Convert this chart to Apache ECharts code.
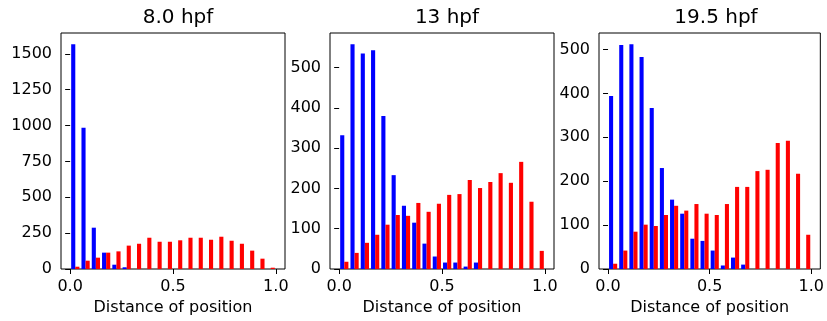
<!DOCTYPE html>
<html>
<head>
<meta charset="utf-8">
<script src="https://cdn.jsdelivr.net/npm/echarts@6/dist/echarts.min.js"></script>
<style>html,body{margin:0;padding:0;background:#fff}#c{width:827px;height:321px}</style>
</head>
<body>
<div id="c"></div>
<script>
const binEdges = [0.00,0.05,0.10,0.15,0.20,0.25,0.30,0.35,0.40,0.45,0.50,0.55,0.60,0.65,0.70,0.75,0.80,0.85,0.90,0.95];
const titles = ['8.0 hpf', '13 hpf', '19.5 hpf'];
const xLabel = 'Distance of position';
const xTicks = [0.0, 0.5, 1.0];

const blue8  = [1567,985,288,114,30,12,0,0,0,0,0,0,0,0,0,0,0,0,0,0];
const red8   = [16,58,79,114,123,163,176,218,190,190,200,218,218,204,225,197,176,128,72,9];
const blue13 = [332,558,535,543,380,233,157,115,63,31,16,16,6,16,0,0,0,0,0,0];
const red13  = [18,40,65,85,110,134,132,164,142,162,184,186,221,201,216,238,214,266,167,45];
const blue19 = [394,510,512,483,367,230,158,126,69,64,42,8,26,10,0,0,0,0,0,0];
const red19  = [12,42,85,101,98,123,144,133,148,126,123,148,187,187,223,226,287,292,217,78];

const yTicks8  = [0,250,500,750,1000,1250,1500];
const yTicks13 = [0,100,200,300,400,500];
const yTicks19 = [0,100,200,300,400,500];

const panels = [
  {title: titles[0], blue: blue8,  red: red8,  yTicks: yTicks8,  left: 61},
  {title: titles[1], blue: blue13, red: red13, yTicks: yTicks13, left: 330},
  {title: titles[2], blue: blue19, red: red19, yTicks: yTicks19, left: 599}
];

const BIN_W = 0.05;
const BAR_W = BIN_W * 0.4;
const X_MIN = -0.0445, X_MAX = 1.0445;
const GRID_W = 224, GRID_TOP = 33, GRID_H = 236;
const FONT = 'DejaVu Sans';

function makeRender(offset) {
  return function (params, api) {
    const x0 = api.value(0) + offset;
    const v = api.value(1);
    const p0 = api.coord([x0, v]);
    const p1 = api.coord([x0 + BAR_W, 0]);
    return {
      type: 'rect',
      shape: {x: p0[0], y: p0[1], width: p1[0] - p0[0], height: p1[1] - p0[1]},
      style: {fill: api.visual('color')}
    };
  };
}

const grid = [], xAxis = [], yAxis = [], series = [], title = [];
panels.forEach((p, i) => {
  grid.push({left: p.left, top: GRID_TOP, width: GRID_W, height: GRID_H,
    show: true, borderColor: '#000', borderWidth: 1, backgroundColor: 'transparent'});
  title.push({text: p.title, left: p.left + GRID_W / 2, top: 3, textAlign: 'center',
    textStyle: {fontFamily: FONT, fontSize: 20, fontWeight: 'normal', color: '#000'}});
  const yMax = Math.max(...p.blue, ...p.red) * 1.05;
  xAxis.push({type: 'value', gridIndex: i, min: X_MIN, max: X_MAX,
    name: xLabel, nameLocation: 'middle', nameGap: 31,
    nameTextStyle: {fontFamily: FONT, fontSize: 16, color: '#000'},
    axisLine: {show: false}, splitLine: {show: false},
    axisTick: {show: true, length: 5, lineStyle: {color: '#000', width: 1}, customValues: xTicks},
    axisLabel: {fontFamily: FONT, fontSize: 16, color: '#000', margin: 10,
      customValues: xTicks, formatter: v => Number(v).toFixed(1)}});
  yAxis.push({type: 'value', gridIndex: i, min: 0, max: yMax,
    axisLine: {show: false}, splitLine: {show: false},
    axisTick: {show: true, length: 5, lineStyle: {color: '#000', width: 1}, customValues: p.yTicks},
    axisLabel: {fontFamily: FONT, fontSize: 16, color: '#000', margin: 9,
      customValues: p.yTicks, formatter: v => String(Math.round(v))}});
  series.push({type: 'custom', xAxisIndex: i, yAxisIndex: i, color: '#0000ff',
    renderItem: makeRender(BIN_W * 0.1), encode: {x: 0, y: 1},
    data: binEdges.map((e, k) => [e, p.blue[k]])});
  series.push({type: 'custom', xAxisIndex: i, yAxisIndex: i, color: '#ff0000',
    renderItem: makeRender(BIN_W * 0.1 + BAR_W), encode: {x: 0, y: 1},
    data: binEdges.map((e, k) => [e, p.red[k]])});
});

const chart = echarts.init(document.getElementById('c'), null, {renderer: 'canvas'});
chart.setOption({animation: false, backgroundColor: '#fff', title, grid, xAxis, yAxis, series});
</script>
</body>
</html>
